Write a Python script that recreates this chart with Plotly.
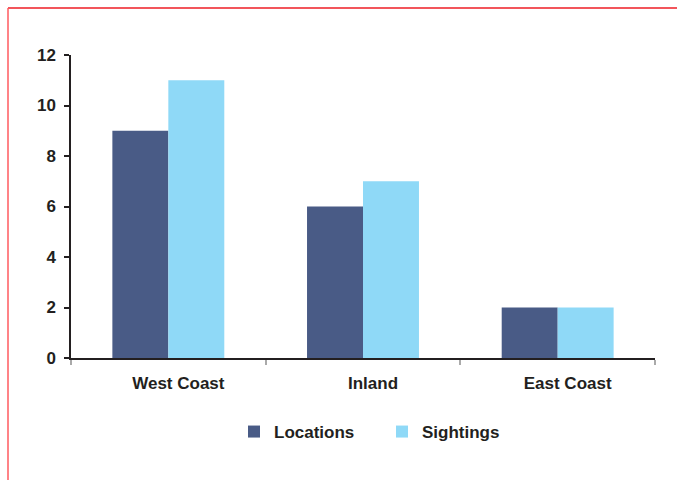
import plotly.graph_objects as go

categories = ["West Coast", "Inland", "East Coast"]
locations = [9, 6, 2]
sightings = [11, 7, 2]
y_ticks = [0, 2, 4, 6, 8, 10, 12]

W, H = 677, 480
L, R, T, B = 71, 22, 55, 122
pw, ph = W - L - R, H - T - B

def px(x):
    return (x - L) / pw

def py(y):
    return (H - B - y) / ph

txt = "#231f20"
fam = "Liberation Sans, Arial, sans-serif"

fig = go.Figure()
fig.add_trace(go.Bar(name="Locations", x=categories, y=locations, marker=dict(color="#495b86", line=dict(width=0))))
fig.add_trace(go.Bar(name="Sightings", x=categories, y=sightings, marker=dict(color="#8fd9f7", line=dict(width=0))))

fig.update_layout(
    width=W, height=H,
    margin=dict(l=L, r=R, t=T, b=B, autoexpand=False),
    paper_bgcolor="white", plot_bgcolor="white",
    barmode="group", bargap=0.425, bargroupgap=0,
    font=dict(family=fam, size=17, color=txt),
    showlegend=True,
    legend=dict(orientation="h", x=px(234), xanchor="left", y=py(432), yanchor="middle",
                font=dict(family=fam, size=17, color=txt, weight="bold"),
                entrywidth=103, entrywidthmode="pixels", itemsizing="constant",
                bgcolor="rgba(0,0,0,0)"),
    xaxis=dict(showline=True, linecolor=txt, linewidth=1.5, ticks="outside", tickson="boundaries",
               ticklen=5, tickcolor="#aaaaaa", tickwidth=1.5, showgrid=False,
               tickfont=dict(family=fam, size=17, color=txt, weight="bold"),
               ticklabelstandoff=9, ticklabelshift=10),
    yaxis=dict(range=[0, 12], tickvals=y_ticks, showline=True, linecolor=txt, linewidth=1.5,
               ticks="outside", ticklen=5, tickcolor=txt, tickwidth=1.5, showgrid=False, zeroline=False,
               tickfont=dict(family=fam, size=17, color=txt, weight="bold"),
               ticklabelstandoff=5),
    shapes=[
        dict(type="line", xref="paper", yref="paper", x0=px(8), x1=px(677), y0=py(8), y1=py(8),
             line=dict(color="#ee1c25", width=1.5)),
        dict(type="line", xref="paper", yref="paper", x0=px(8), x1=px(8), y0=py(8), y1=py(480),
             line=dict(color="#ff5a5f", width=1.5)),
    ],
)

fig.write_html("out.html")
